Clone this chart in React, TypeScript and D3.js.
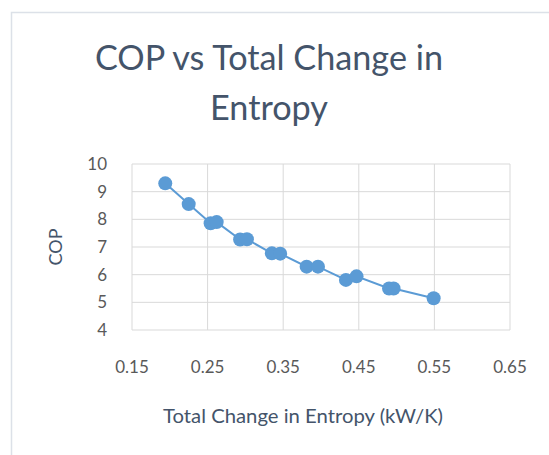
import React from "react";
import * as d3 from "d3";

const entropy = [0.194, 0.225, 0.254, 0.262, 0.293, 0.302, 0.335, 0.346, 0.381, 0.396, 0.433, 0.447, 0.49, 0.496, 0.549];
const cop = [9.3, 8.55, 7.86, 7.9, 7.27, 7.28, 6.77, 6.76, 6.29, 6.29, 5.81, 5.94, 5.5, 5.5, 5.15];
const xTicks = [0.15, 0.25, 0.35, 0.45, 0.55, 0.65];
const yTicks = [4, 5, 6, 7, 8, 9, 10];
const titleLines = ["COP vs Total  Change  in", "Entropy"];
const xTitle = "Total Change  in Entropy  (kW/K)";
const yTitle = "COP";

const W = 549;
const H = 455;
const FONT = "Lato, 'Open Sans', sans-serif";

export default function App() {
  const x = d3.scaleLinear().domain([0.15, 0.65]).range([132, 510]);
  const y = d3.scaleLinear().domain([4, 10]).range([330, 164]);
  const pts = entropy.map((e, i) => [e, cop[i]] as [number, number]);
  const line = d3.line<[number, number]>().x((d) => x(d[0])).y((d) => y(d[1]));
  const grid = "#D9D9D9";
  return (
    <svg width={W} height={H} style={{ position: "absolute", left: 0, top: 0, background: "#fff" }}>
      <rect x={0} y={0} width={W} height={H} fill="#fff" />
      <path d={`M11.5,${H} V12.5 H${W}`} fill="none" stroke="#DCE1E8" strokeWidth={1.5} />
      <g fontFamily={FONT}>
        <text x={269} y={70} textAnchor="middle" fontSize={34} fill="#44546A" textLength={348} lengthAdjust="spacingAndGlyphs">{titleLines[0]}</text>
        <text x={269} y={120} textAnchor="middle" fontSize={34} fill="#44546A" textLength={118} lengthAdjust="spacingAndGlyphs">{titleLines[1]}</text>
        {yTicks.map((t) => (
          <line key={"h" + t} x1={132} x2={510} y1={y(t)} y2={y(t)} stroke={grid} strokeWidth={1} />
        ))}
        {xTicks.map((t) => (
          <line key={"v" + t} x1={x(t)} x2={x(t)} y1={164} y2={330} stroke={grid} strokeWidth={1} />
        ))}
        {yTicks.map((t) => (
          <text key={"yl" + t} x={107} y={y(t)} dy="0.36em" textAnchor="end" fontSize={17} fill="#595959">{t}</text>
        ))}
        {xTicks.map((t) => (
          <text key={"xl" + t} x={x(t)} y={373} textAnchor="middle" fontSize={17} fill="#595959">{t.toFixed(2)}</text>
        ))}
        <text x={303} y={423} textAnchor="middle" fontSize={19} fill="#44546A" textLength={280} lengthAdjust="spacingAndGlyphs">{xTitle}</text>
        <text transform="translate(62,247) rotate(-90)" textAnchor="middle" fontSize={18} fill="#44546A">{yTitle}</text>
        <path d={line(pts) || ""} fill="none" stroke="#5B9BD5" strokeWidth={2} />
        {pts.map((d, i) => (
          <circle key={i} cx={x(d[0])} cy={y(d[1])} r={7} fill="#5B9BD5" />
        ))}
      </g>
    </svg>
  );
}
